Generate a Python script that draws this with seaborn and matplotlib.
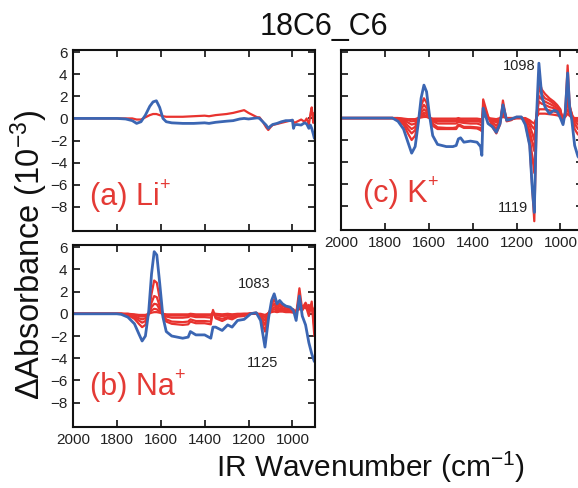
import matplotlib
matplotlib.use("Agg")
import matplotlib.pyplot as plt
import seaborn as sns
from matplotlib.transforms import offset_copy

# ---------------- data ----------------
xa = [2000, 1900, 1800, 1760, 1730, 1710, 1690, 1670, 1650, 1635,
      1620, 1605, 1590, 1575, 1550, 1500, 1450, 1400, 1380, 1350,
      1300, 1270, 1240, 1220, 1200, 1180, 1160, 1150, 1135, 1120,
      1110, 1100, 1090, 1070, 1050, 1030, 1010, 1000, 995, 990,
      980, 960, 945, 935, 925, 918, 912, 905, 900]
li_blue = [0, 0, 0, -0.05, -0.2, -0.45, -0.3, 0.3, 1.1, 1.5,
           1.6, 1.0, 0.0, -0.3, -0.4, -0.45, -0.45, -0.4, -0.45, -0.35,
           -0.25, -0.2, -0.05, 0.0, -0.05, 0.0, 0.05, 0.0, -0.3, -0.6,
           -0.9, -0.7, -0.55, -0.45, -0.3, -0.2, -0.2, -0.15, -0.9, -0.6,
           -0.55, -0.6, -0.4, -0.5, -0.9, -0.6, -0.9, -1.4, -1.8]
li_red = [[0, 0, 0, 0, 0, -0.1, -0.1, 0.1, 0.3, 0.4,
           0.4, 0.3, 0.2, 0.15, 0.15, 0.15, 0.2, 0.25, 0.2, 0.3,
           0.4, 0.5, 0.65, 0.75, 0.5, 0.3, 0.1, 0.1, -0.3, -0.8,
           -1.05, -0.8, -0.6, -0.5, -0.4, -0.3, -0.2, -0.15, -0.3, -0.4,
           -0.3, -0.1, -0.3, 0.0, -0.6, 0.4, 1.0, -0.4, 0.5]]

xb = [2000, 1800, 1780, 1750, 1720, 1700, 1685, 1670, 1655, 1642,
      1630, 1618, 1605, 1590, 1575, 1550, 1500, 1475, 1465, 1440,
      1400, 1372, 1362, 1350, 1320, 1295, 1275, 1250, 1220, 1190,
      1165, 1145, 1125, 1108, 1095, 1083, 1070, 1058, 1045, 1030,
      1010, 995, 983, 968, 955, 940, 925, 912, 900]
na_blue = [0, 0, -0.05, -0.3, -0.9, -1.8, -2.45, -2.0, 0.2, 3.6,
           5.6, 5.3, 2.8, -0.3, -1.6, -2.0, -2.2, -2.1, -1.6, -1.9,
           -1.9, -2.2, -1.2, -1.2, -1.5, -1.0, -1.2, -0.6, -0.5, 0.0,
           0.1, -0.6, -3.0, -0.3, 1.2, 1.8, 0.9, 1.2, 0.9, 0.7,
           0.6, 0.3, -0.6, 1.6, -0.2, -1.0, -2.6, -3.6, -4.3]
na_red = [
    [0, 0, 0, -0.12, -0.45, -0.9, -1.2, -1.0, 0.0, 1.8,
     3.0, 2.8, 1.4, -0.2, -0.7, -0.9, -1.0, -0.95, -0.7, -0.85,
     -0.85, -0.95, 0.35, -0.4, -0.65, -0.4, -0.5, -0.25, -0.2, 0.05,
     0.1, -0.3, -1.6, -0.1, 0.8, 1.3, 0.7, 0.9, 0.7, 0.55,
     0.5, 0.4, -0.1, 2.3, 0.3, 0.8, -0.2, 1.1, -2.0],
    [0, 0, 0, -0.08, -0.3, -0.6, -0.8, -0.65, 0.0, 1.0,
     1.6, 1.5, 0.7, -0.1, -0.5, -0.7, -0.75, -0.7, -0.5, -0.65,
     -0.65, -0.7, 0.2, -0.3, -0.45, -0.3, -0.35, -0.15, -0.1, 0.05,
     0.05, -0.2, -1.0, 0.0, 0.6, 0.9, 0.5, 0.7, 0.5, 0.4,
     0.35, 0.3, 0.1, 1.4, 0.4, 0.9, 0.2, 0.9, -1.2],
    [0, 0, 0, -0.05, -0.2, -0.4, -0.5, -0.4, 0.0, 0.6,
     0.9, 0.85, 0.4, -0.05, -0.25, -0.35, -0.35, -0.3, -0.2, -0.3,
     -0.3, -0.35, 0.15, -0.15, -0.2, -0.15, -0.2, -0.1, -0.05, 0.0,
     0.05, -0.1, -0.6, 0.1, 0.4, 0.6, 0.4, 0.5, 0.4, 0.3,
     0.3, 0.2, 0.2, 0.9, 0.5, 1.0, 0.4, 0.7, -0.5],
    [0, 0, 0, 0, -0.1, -0.2, -0.25, -0.2, 0.0, 0.3,
     0.45, 0.4, 0.2, 0.0, -0.1, -0.15, -0.15, -0.15, -0.1, -0.15,
     -0.15, -0.15, 0.1, -0.05, -0.1, -0.05, -0.1, -0.05, 0.0, 0.0,
     0.0, -0.05, -0.3, 0.1, 0.3, 0.4, 0.3, 0.35, 0.3, 0.2,
     0.2, 0.15, 0.2, 0.6, 0.6, 0.7, 0.5, 0.5, 0.0],
    [0, 0, 0, 0, -0.05, -0.1, -0.1, -0.1, 0.0, 0.1,
     0.15, 0.15, 0.1, 0.0, -0.05, -0.05, -0.05, -0.05, 0.0, -0.05,
     -0.05, -0.05, 0.05, 0.0, -0.05, 0.0, -0.05, 0.0, 0.0, 0.0,
     0.0, 0.0, -0.1, 0.05, 0.15, 0.2, 0.15, 0.2, 0.2, 0.15,
     0.15, 0.1, 0.3, 0.4, 0.7, 0.5, 0.8, 0.3, 0.5],
]

xc = [2000, 1800, 1765, 1740, 1715, 1695, 1678, 1662, 1648, 1635,
      1622, 1610, 1597, 1582, 1560, 1520, 1490, 1475, 1465, 1455,
      1440, 1410, 1380, 1364, 1358, 1352, 1330, 1310, 1292, 1275,
      1262, 1245, 1225, 1200, 1178, 1160, 1140, 1128, 1119, 1108,
      1098, 1085, 1070, 1050, 1030, 1015, 1000, 988, 978, 967,
      958, 948, 935, 920, 900]
k_blue = [0, 0, 0, -0.3, -1.0, -2.2, -3.2, -2.6, -0.5, 1.8,
          3.0, 2.4, 0.3, -1.6, -2.4, -2.6, -2.6, -2.5, -1.9, -1.8,
          -2.2, -2.1, -2.2, -2.6, -3.4, 0.9, -0.5, -0.8, -1.3, -0.5,
          1.2, -0.2, -0.1, 0.1, 0.1, -0.6, -2.5, -6.5, -8.6, 0.5,
          5.0, 2.0, 1.0, 0.4, 0.7, 0.6, 0.0, -0.6, 0.5, 4.1,
          1.0, -0.2, -2.5, -3.5, -4.0]
k_red = [
    [0, 0, 0, -0.2, -0.6, -1.4, -2.0, -1.6, -0.3, 1.1,
     1.8, 1.4, 0.2, -0.7, -1.0, -1.0, -1.0, -1.0, -0.7, -0.75,
     -0.9, -0.9, -0.95, -1.1, -1.2, 1.7, 0.2, -0.8, -1.4, -0.6,
     1.6, -0.3, -0.2, 0.1, 0.1, -0.4, -2.5, -6.5, -9.4, 0.2,
     3.5, 2.6, 2.2, 1.8, 1.5, 1.2, 0.8, -0.5, 0.6, 4.8,
     1.2, 0.3, -1.0, -1.5, -1.2],
    [0, 0, 0, -0.15, -0.45, -1.0, -1.4, -1.1, -0.2, 0.8,
     1.2, 0.9, 0.1, -0.5, -0.85, -0.9, -0.9, -0.85, -0.6, -0.65,
     -0.8, -0.8, -0.85, -0.9, -1.0, 1.2, 0.1, -0.6, -1.0, -0.4,
     1.2, -0.2, -0.15, 0.05, 0.05, -0.3, -1.8, -3.5, -5.0, 0.3,
     2.8, 2.2, 1.8, 1.6, 1.3, 1.1, 0.7, -0.3, 0.5, 3.0,
     1.0, 0.4, -0.5, -1.0, -0.8],
    [0, 0, 0, -0.1, -0.3, -0.7, -1.0, -0.8, -0.1, 0.5,
     0.8, 0.6, 0.05, -0.3, -0.5, -0.5, -0.5, -0.5, -0.35, -0.4,
     -0.45, -0.5, -0.5, -0.6, -0.7, 0.8, 0.05, -0.4, -0.7, -0.3,
     0.8, -0.1, -0.1, 0.0, 0.0, -0.2, -1.2, -2.2, -3.0, 0.3,
     2.0, 1.7, 1.5, 1.3, 1.1, 0.9, 0.6, -0.2, 0.4, 2.0,
     0.8, 0.3, -0.2, -0.6, -0.5],
    [0, 0, 0, -0.05, -0.2, -0.4, -0.6, -0.5, -0.05, 0.3,
     0.5, 0.4, 0.0, -0.2, -0.3, -0.3, -0.3, -0.3, -0.2, -0.25,
     -0.3, -0.3, -0.3, -0.35, -0.4, 0.5, 0.0, -0.25, -0.4, -0.2,
     0.5, -0.05, -0.05, 0.0, 0.0, -0.1, -0.7, -1.4, -2.0, 0.2,
     1.5, 1.3, 1.2, 1.0, 0.9, 0.7, 0.5, -0.1, 0.3, 1.5,
     0.6, 0.2, -0.1, -0.3, -0.3],
    [0, 0, 0, 0, -0.1, -0.2, -0.3, -0.25, 0.0, 0.15,
     0.3, 0.2, 0.0, -0.1, -0.2, -0.2, -0.2, -0.2, -0.1, -0.15,
     -0.2, -0.2, -0.2, -0.2, -0.25, 0.3, 0.0, -0.15, -0.25, -0.1,
     0.3, 0.0, 0.0, 0.0, 0.0, -0.05, -0.4, -0.8, -1.0, 0.1,
     0.8, 0.8, 0.8, 0.7, 0.6, 0.5, 0.3, 0.0, 0.2, 0.8,
     0.4, 0.1, 0.0, -0.1, -0.1],
    [0, 0, 0, 0, -0.05, -0.1, -0.1, -0.1, 0.0, 0.05,
     0.1, 0.1, 0.0, -0.05, -0.05, -0.05, -0.05, -0.05, 0.0, -0.05,
     -0.05, -0.05, -0.05, -0.1, -0.1, 0.2, 0.0, -0.05, -0.1, 0.0,
     0.1, 0.0, 0.0, 0.0, 0.0, 0.0, -0.2, -0.4, -0.5, 0.1,
     0.4, 0.4, 0.4, 0.35, 0.3, 0.25, 0.15, 0.0, 0.1, 0.4,
     0.2, 0.05, 0.0, 0.0, 0.0],
]

x_ticks = [2000, 1800, 1600, 1400, 1200, 1000]
y_ticks = [6, 4, 2, 0, -2, -4, -6, -8]
panel_names = ["(a) Li", "(b) Na", "(c) K"]
peak_labels_b = ["1083", "1125"]
peak_labels_c = ["1098", "1119"]

# ---------------- style ----------------
sns.set_style("ticks")
plt.rcParams['font.family'] = ['Liberation Sans', 'DejaVu Sans']
plt.rcParams['mathtext.fontset'] = 'custom'
plt.rcParams['mathtext.rm'] = 'Liberation Sans'
plt.rcParams['mathtext.it'] = 'Liberation Sans:italic'
plt.rcParams['mathtext.bf'] = 'Liberation Sans:bold'

RED = "#e8332f"
BLUE = "#3b66b3"
TXT_RED = "#e43a35"

W, H = 578, 488
fig = plt.figure(figsize=(W / 100, H / 100), dpi=100)


def add_ax(l, t, r, b):
    return fig.add_axes([l / W, 1 - b / H, (r - l) / W, (b - t) / H])


ax_a = add_ax(73, 50, 315, 231)
ax_b = add_ax(73, 245, 315, 427)
ax_c = add_ax(341, 50, 583, 230)

panels = [
    (ax_a, xa, li_red, li_blue),
    (ax_b, xb, na_red, na_blue),
    (ax_c, xc, k_red, k_blue),
]
for ax, xs, reds, blue in panels:
    for r in reds:
        sns.lineplot(x=xs, y=r, ax=ax, color=RED, lw=1.6, sort=False,
                     estimator=None, legend=False)
    sns.lineplot(x=xs, y=blue, ax=ax, color=BLUE, lw=2.0, sort=False,
                 estimator=None, legend=False)
    ax.set_xlim(2000, 897)
    ax.set_ylim(-10.2, 6.2)
    ax.set_xticks(x_ticks)
    ax.set_yticks(y_ticks)
    ax.tick_params(direction='in', length=5, width=1.3, top=True, right=True,
                   labelsize=11, colors='#222222', pad=4)
    for s in ax.spines.values():
        s.set_linewidth(1.5)
        s.set_color('#111111')
        s.set_visible(True)
    ax.set_xlabel("")
    ax.set_ylabel("")

ax_a.set_xticklabels([])
ax_c.set_yticklabels([])

# panel labels with small raised "+"
renderer = fig.canvas.get_renderer()
label_pos = [(ax_a, 0.07, 0.144), (ax_b, 0.07, 0.176), (ax_c, 0.091, 0.156)]
for (ax, lx, ly), name in zip(label_pos, panel_names):
    t = ax.text(lx, ly, name, transform=ax.transAxes, color=TXT_RED,
                fontsize=22, va='baseline', ha='left')
    ext = t.get_window_extent(renderer=renderer)
    tr = offset_copy(fig.transFigure, fig=fig, x=-0.5, y=10.5, units='points')
    fig.text(ext.x1 / W, ly * ax.get_position().height + ax.get_position().y0,
             "+", transform=tr, color=TXT_RED, fontsize=13, va='baseline',
             ha='left')

# peak annotations
ax_b.text(1173, 2.7, peak_labels_b[0], fontsize=10.5, ha='center', va='center', color='#222222')
ax_b.text(1136, -4.4, peak_labels_b[1], fontsize=10.5, ha='center', va='center', color='#222222')
ax_c.text(1186, 4.7, peak_labels_c[0], fontsize=10.5, ha='center', va='center', color='#222222')
ax_c.text(1218, -8.2, peak_labels_c[1], fontsize=10.5, ha='center', va='center', color='#222222')

# titles / axis labels
fig.text(324 / W, 1 - 27 / H, "18C6_C6", ha='center', va='center', fontsize=22,
         color='#111111')
fig.text(370 / W, 1 - 467 / H, "IR Wavenumber (cm$^{-1}$)", ha='center',
         va='center', fontsize=21.5, color='#111111')
fig.text(29 / W, 1 - 255 / H, "\u0394Absorbance (10$^{-3}$)", ha='center',
         va='center', rotation=90, fontsize=23.5, color='#111111')

fig.savefig("out.png", dpi=100)
